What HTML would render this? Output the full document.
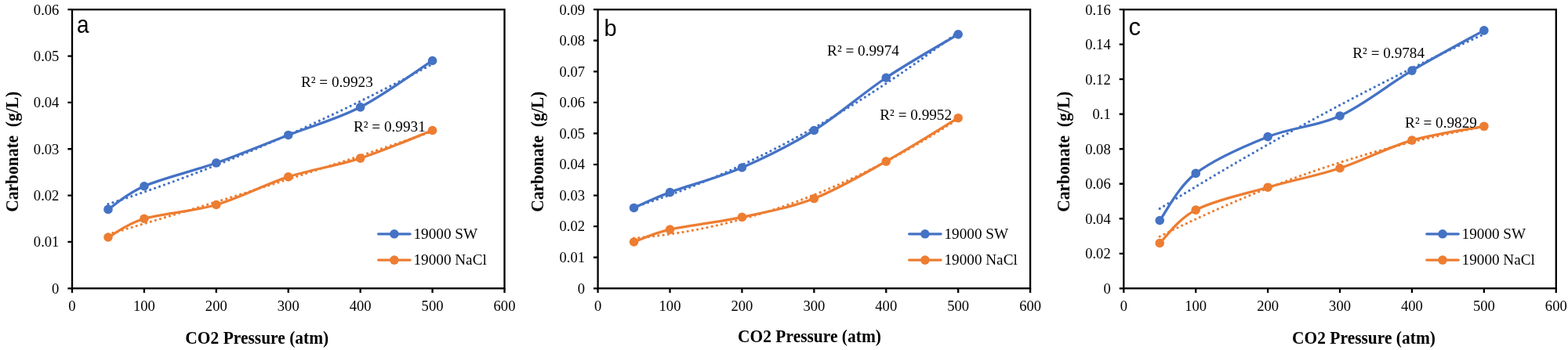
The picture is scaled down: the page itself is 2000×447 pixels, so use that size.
<!DOCTYPE html><html><head><meta charset="utf-8"><style>html,body{margin:0;padding:0;background:#fff;}svg{display:block}</style></head><body>
<svg width="2000" height="447" viewBox="0 0 2000 447">
<rect width="2000" height="447" fill="#fff"/>
<g><path d="M137.96,260.67 Q344.77,193.43 551.58,81.76" fill="none" stroke="#4472C4" stroke-width="3.3" stroke-linecap="round" stroke-dasharray="0 6.3"/><path d="M137.96,299.18 Q344.77,238.89 551.58,167.86" fill="none" stroke="#ED7D31" stroke-width="3.3" stroke-linecap="round" stroke-dasharray="0 6.3"/><path d="M137.96,267.4 C145.62,262.46 160.94,247.62 183.92,237.73 C206.9,227.84 245.19,218.94 275.83,208.06 C306.47,197.17 337.11,184.32 367.75,172.44 C398.39,160.57 429.03,152.66 459.67,136.83 C490.31,121.01 536.26,87.38 551.58,77.48" fill="none" stroke="#4472C4" stroke-width="3.3" stroke-linecap="round" stroke-linejoin="round"/><circle cx="137.96" cy="267.4" r="5.8" fill="#4472C4"/><circle cx="183.92" cy="237.73" r="5.8" fill="#4472C4"/><circle cx="275.83" cy="208.06" r="5.8" fill="#4472C4"/><circle cx="367.75" cy="172.44" r="5.8" fill="#4472C4"/><circle cx="459.67" cy="136.83" r="5.8" fill="#4472C4"/><circle cx="551.58" cy="77.48" r="5.8" fill="#4472C4"/><path d="M137.96,303.01 C145.62,299.06 160.94,286.2 183.92,279.27 C206.9,272.35 245.19,270.37 275.83,261.47 C306.47,252.57 337.11,235.75 367.75,225.86 C398.39,215.97 429.03,212.01 459.67,202.12 C490.31,192.23 536.26,172.45 551.58,166.51" fill="none" stroke="#ED7D31" stroke-width="3.3" stroke-linecap="round" stroke-linejoin="round"/><circle cx="137.96" cy="303.01" r="5.8" fill="#ED7D31"/><circle cx="183.92" cy="279.27" r="5.8" fill="#ED7D31"/><circle cx="275.83" cy="261.47" r="5.8" fill="#ED7D31"/><circle cx="367.75" cy="225.86" r="5.8" fill="#ED7D31"/><circle cx="459.67" cy="202.12" r="5.8" fill="#ED7D31"/><circle cx="551.58" cy="166.51" r="5.8" fill="#ED7D31"/><rect x="92" y="12.2" width="551.5" height="356.1" fill="none" stroke="#000" stroke-width="2.3"/><text transform="translate(75.4,374.6) scale(0.96,1)" text-anchor="end" font-family="Liberation Serif, Times New Roman, serif" font-size="19.4">0</text><text transform="translate(75.4,315.25) scale(0.96,1)" text-anchor="end" font-family="Liberation Serif, Times New Roman, serif" font-size="19.4">0.01</text><text transform="translate(75.4,255.9) scale(0.96,1)" text-anchor="end" font-family="Liberation Serif, Times New Roman, serif" font-size="19.4">0.02</text><text transform="translate(75.4,196.55) scale(0.96,1)" text-anchor="end" font-family="Liberation Serif, Times New Roman, serif" font-size="19.4">0.03</text><text transform="translate(75.4,137.2) scale(0.96,1)" text-anchor="end" font-family="Liberation Serif, Times New Roman, serif" font-size="19.4">0.04</text><text transform="translate(75.4,77.85) scale(0.96,1)" text-anchor="end" font-family="Liberation Serif, Times New Roman, serif" font-size="19.4">0.05</text><text transform="translate(75.4,18.5) scale(0.96,1)" text-anchor="end" font-family="Liberation Serif, Times New Roman, serif" font-size="19.4">0.06</text><text transform="translate(92,397) scale(0.96,1)" text-anchor="middle" font-family="Liberation Serif, Times New Roman, serif" font-size="19.4">0</text><text transform="translate(183.92,397) scale(0.96,1)" text-anchor="middle" font-family="Liberation Serif, Times New Roman, serif" font-size="19.4">100</text><text transform="translate(275.83,397) scale(0.96,1)" text-anchor="middle" font-family="Liberation Serif, Times New Roman, serif" font-size="19.4">200</text><text transform="translate(367.75,397) scale(0.96,1)" text-anchor="middle" font-family="Liberation Serif, Times New Roman, serif" font-size="19.4">300</text><text transform="translate(459.67,397) scale(0.96,1)" text-anchor="middle" font-family="Liberation Serif, Times New Roman, serif" font-size="19.4">400</text><text transform="translate(551.58,397) scale(0.96,1)" text-anchor="middle" font-family="Liberation Serif, Times New Roman, serif" font-size="19.4">500</text><text transform="translate(643.5,397) scale(0.96,1)" text-anchor="middle" font-family="Liberation Serif, Times New Roman, serif" font-size="19.4">600</text><path d="M86.4,368.3 H92 M86.4,308.95 H92 M86.4,249.6 H92 M86.4,190.25 H92 M86.4,130.9 H92 M86.4,71.55 H92 M86.4,12.2 H92 M92,368.3 V373.9 M183.92,368.3 V373.9 M275.83,368.3 V373.9 M367.75,368.3 V373.9 M459.67,368.3 V373.9 M551.58,368.3 V373.9 M643.5,368.3 V373.9" stroke="#000" stroke-width="2.3" fill="none"/><text transform="translate(97.9,42) scale(0.9,1)" font-family="Liberation Sans, Arial, sans-serif" font-size="31">a</text><text x="384" y="111" font-family="Liberation Serif, Times New Roman, serif" font-size="19.2">R² = 0.9923</text><text x="451" y="168" font-family="Liberation Serif, Times New Roman, serif" font-size="19.2">R² = 0.9931</text><path d="M482.65,298.8 H523.15" stroke="#4472C4" stroke-width="3.3" stroke-linecap="round"/><circle cx="502.9" cy="298.8" r="5.8" fill="#4472C4"/><text x="527.5" y="304.8" font-family="Liberation Serif, Times New Roman, serif" font-size="19.2">19000 SW</text><path d="M482.65,332.1 H523.15" stroke="#ED7D31" stroke-width="3.3" stroke-linecap="round"/><circle cx="502.9" cy="332.1" r="5.8" fill="#ED7D31"/><text x="527.5" y="338.1" font-family="Liberation Serif, Times New Roman, serif" font-size="19.2">19000 NaCl</text><text transform="translate(327.8,439.05) scale(0.93,1)" text-anchor="middle" font-family="Liberation Serif, Times New Roman, serif" font-weight="bold" font-size="23.1">CO2 Pressure (atm)</text><text transform="translate(22.8,193.8) rotate(-90) scale(0.93,1)" text-anchor="middle" font-family="Liberation Serif, Times New Roman, serif" font-weight="bold" font-size="23.1" xml:space="preserve">Carbonate  (g/L)</text></g>
<g><path d="M808.56,264.65 Q1015.37,198.99 1222.18,40.81" fill="none" stroke="#4472C4" stroke-width="3.3" stroke-linecap="round" stroke-dasharray="0 6.3"/><path d="M808.56,304.13 Q1015.37,287.51 1222.18,151.71" fill="none" stroke="#ED7D31" stroke-width="3.3" stroke-linecap="round" stroke-dasharray="0 6.3"/><path d="M808.56,265.43 C816.22,262.13 831.54,254.22 854.52,245.64 C877.5,237.07 915.79,227.18 946.43,213.99 C977.07,200.8 1007.71,185.63 1038.35,166.51 C1068.99,147.39 1099.63,119.69 1130.27,99.25 C1160.91,78.8 1206.86,53.09 1222.18,43.85" fill="none" stroke="#4472C4" stroke-width="3.3" stroke-linecap="round" stroke-linejoin="round"/><circle cx="808.56" cy="265.43" r="5.8" fill="#4472C4"/><circle cx="854.52" cy="245.64" r="5.8" fill="#4472C4"/><circle cx="946.43" cy="213.99" r="5.8" fill="#4472C4"/><circle cx="1038.35" cy="166.51" r="5.8" fill="#4472C4"/><circle cx="1130.27" cy="99.25" r="5.8" fill="#4472C4"/><circle cx="1222.18" cy="43.85" r="5.8" fill="#4472C4"/><path d="M808.56,308.95 C816.22,306.31 831.54,298.4 854.52,293.12 C877.5,287.85 915.79,283.89 946.43,277.3 C977.07,270.7 1007.71,265.43 1038.35,253.56 C1068.99,241.69 1099.63,223.22 1130.27,206.08 C1160.91,188.93 1206.86,159.92 1222.18,150.68" fill="none" stroke="#ED7D31" stroke-width="3.3" stroke-linecap="round" stroke-linejoin="round"/><circle cx="808.56" cy="308.95" r="5.8" fill="#ED7D31"/><circle cx="854.52" cy="293.12" r="5.8" fill="#ED7D31"/><circle cx="946.43" cy="277.3" r="5.8" fill="#ED7D31"/><circle cx="1038.35" cy="253.56" r="5.8" fill="#ED7D31"/><circle cx="1130.27" cy="206.08" r="5.8" fill="#ED7D31"/><circle cx="1222.18" cy="150.68" r="5.8" fill="#ED7D31"/><rect x="762.6" y="12.2" width="551.5" height="356.1" fill="none" stroke="#000" stroke-width="2.3"/><text transform="translate(746,374.6) scale(0.96,1)" text-anchor="end" font-family="Liberation Serif, Times New Roman, serif" font-size="19.4">0</text><text transform="translate(746,335.03) scale(0.96,1)" text-anchor="end" font-family="Liberation Serif, Times New Roman, serif" font-size="19.4">0.01</text><text transform="translate(746,295.47) scale(0.96,1)" text-anchor="end" font-family="Liberation Serif, Times New Roman, serif" font-size="19.4">0.02</text><text transform="translate(746,255.9) scale(0.96,1)" text-anchor="end" font-family="Liberation Serif, Times New Roman, serif" font-size="19.4">0.03</text><text transform="translate(746,216.33) scale(0.96,1)" text-anchor="end" font-family="Liberation Serif, Times New Roman, serif" font-size="19.4">0.04</text><text transform="translate(746,176.77) scale(0.96,1)" text-anchor="end" font-family="Liberation Serif, Times New Roman, serif" font-size="19.4">0.05</text><text transform="translate(746,137.2) scale(0.96,1)" text-anchor="end" font-family="Liberation Serif, Times New Roman, serif" font-size="19.4">0.06</text><text transform="translate(746,97.63) scale(0.96,1)" text-anchor="end" font-family="Liberation Serif, Times New Roman, serif" font-size="19.4">0.07</text><text transform="translate(746,58.07) scale(0.96,1)" text-anchor="end" font-family="Liberation Serif, Times New Roman, serif" font-size="19.4">0.08</text><text transform="translate(746,18.5) scale(0.96,1)" text-anchor="end" font-family="Liberation Serif, Times New Roman, serif" font-size="19.4">0.09</text><text transform="translate(762.6,397) scale(0.96,1)" text-anchor="middle" font-family="Liberation Serif, Times New Roman, serif" font-size="19.4">0</text><text transform="translate(854.52,397) scale(0.96,1)" text-anchor="middle" font-family="Liberation Serif, Times New Roman, serif" font-size="19.4">100</text><text transform="translate(946.43,397) scale(0.96,1)" text-anchor="middle" font-family="Liberation Serif, Times New Roman, serif" font-size="19.4">200</text><text transform="translate(1038.35,397) scale(0.96,1)" text-anchor="middle" font-family="Liberation Serif, Times New Roman, serif" font-size="19.4">300</text><text transform="translate(1130.27,397) scale(0.96,1)" text-anchor="middle" font-family="Liberation Serif, Times New Roman, serif" font-size="19.4">400</text><text transform="translate(1222.18,397) scale(0.96,1)" text-anchor="middle" font-family="Liberation Serif, Times New Roman, serif" font-size="19.4">500</text><text transform="translate(1314.1,397) scale(0.96,1)" text-anchor="middle" font-family="Liberation Serif, Times New Roman, serif" font-size="19.4">600</text><path d="M757,368.3 H762.6 M757,328.73 H762.6 M757,289.17 H762.6 M757,249.6 H762.6 M757,210.03 H762.6 M757,170.47 H762.6 M757,130.9 H762.6 M757,91.33 H762.6 M757,51.77 H762.6 M757,12.2 H762.6 M762.6,368.3 V373.9 M854.52,368.3 V373.9 M946.43,368.3 V373.9 M1038.35,368.3 V373.9 M1130.27,368.3 V373.9 M1222.18,368.3 V373.9 M1314.1,368.3 V373.9" stroke="#000" stroke-width="2.3" fill="none"/><text transform="translate(770.4,45.7) scale(1,1)" font-family="Liberation Sans, Arial, sans-serif" font-size="29.1">b</text><text x="1055.1" y="71" font-family="Liberation Serif, Times New Roman, serif" font-size="19.2">R² = 0.9974</text><text x="1122.3" y="153.3" font-family="Liberation Serif, Times New Roman, serif" font-size="19.2">R² = 0.9952</text><path d="M1159.65,298.8 H1200.15" stroke="#4472C4" stroke-width="3.3" stroke-linecap="round"/><circle cx="1179.9" cy="298.8" r="5.8" fill="#4472C4"/><text x="1204.5" y="304.8" font-family="Liberation Serif, Times New Roman, serif" font-size="19.2">19000 SW</text><path d="M1159.65,332.1 H1200.15" stroke="#ED7D31" stroke-width="3.3" stroke-linecap="round"/><circle cx="1179.9" cy="332.1" r="5.8" fill="#ED7D31"/><text x="1204.5" y="338.1" font-family="Liberation Serif, Times New Roman, serif" font-size="19.2">19000 NaCl</text><text transform="translate(1032.5,437.4) scale(0.93,1)" text-anchor="middle" font-family="Liberation Serif, Times New Roman, serif" font-weight="bold" font-size="23.1">CO2 Pressure (atm)</text><text transform="translate(693.4,193.8) rotate(-90) scale(0.93,1)" text-anchor="middle" font-family="Liberation Serif, Times New Roman, serif" font-weight="bold" font-size="23.1" xml:space="preserve">Carbonate  (g/L)</text></g>
<g><path d="M1479.26,266.52 Q1686.07,137.98 1892.88,43.57" fill="none" stroke="#4472C4" stroke-width="3.3" stroke-linecap="round" stroke-dasharray="0 6.3"/><path d="M1479.26,302.05 Q1686.07,198.17 1892.88,161.92" fill="none" stroke="#ED7D31" stroke-width="3.3" stroke-linecap="round" stroke-dasharray="0 6.3"/><path d="M1479.26,281.5 C1486.92,271.49 1502.24,239.21 1525.22,221.41 C1548.2,203.6 1586.49,186.91 1617.13,174.67 C1647.77,162.43 1678.41,162.06 1709.05,147.96 C1739.69,133.87 1770.33,108.27 1800.97,90.1 C1831.61,71.92 1877.56,47.44 1892.88,38.91" fill="none" stroke="#4472C4" stroke-width="3.3" stroke-linecap="round" stroke-linejoin="round"/><circle cx="1479.26" cy="281.5" r="5.8" fill="#4472C4"/><circle cx="1525.22" cy="221.41" r="5.8" fill="#4472C4"/><circle cx="1617.13" cy="174.67" r="5.8" fill="#4472C4"/><circle cx="1709.05" cy="147.96" r="5.8" fill="#4472C4"/><circle cx="1800.97" cy="90.1" r="5.8" fill="#4472C4"/><circle cx="1892.88" cy="38.91" r="5.8" fill="#4472C4"/><path d="M1479.26,310.43 C1486.92,303.39 1502.24,280.02 1525.22,268.15 C1548.2,256.28 1586.49,248.12 1617.13,239.21 C1647.77,230.31 1678.41,224.75 1709.05,214.73 C1739.69,204.72 1770.33,188.02 1800.97,179.12 C1831.61,170.22 1877.56,164.28 1892.88,161.32" fill="none" stroke="#ED7D31" stroke-width="3.3" stroke-linecap="round" stroke-linejoin="round"/><circle cx="1479.26" cy="310.43" r="5.8" fill="#ED7D31"/><circle cx="1525.22" cy="268.15" r="5.8" fill="#ED7D31"/><circle cx="1617.13" cy="239.21" r="5.8" fill="#ED7D31"/><circle cx="1709.05" cy="214.73" r="5.8" fill="#ED7D31"/><circle cx="1800.97" cy="179.12" r="5.8" fill="#ED7D31"/><circle cx="1892.88" cy="161.32" r="5.8" fill="#ED7D31"/><rect x="1433.3" y="12.2" width="551.5" height="356.1" fill="none" stroke="#000" stroke-width="2.3"/><text transform="translate(1416.7,374.6) scale(0.96,1)" text-anchor="end" font-family="Liberation Serif, Times New Roman, serif" font-size="19.4">0</text><text transform="translate(1416.7,330.09) scale(0.96,1)" text-anchor="end" font-family="Liberation Serif, Times New Roman, serif" font-size="19.4">0.02</text><text transform="translate(1416.7,285.57) scale(0.96,1)" text-anchor="end" font-family="Liberation Serif, Times New Roman, serif" font-size="19.4">0.04</text><text transform="translate(1416.7,241.06) scale(0.96,1)" text-anchor="end" font-family="Liberation Serif, Times New Roman, serif" font-size="19.4">0.06</text><text transform="translate(1416.7,196.55) scale(0.96,1)" text-anchor="end" font-family="Liberation Serif, Times New Roman, serif" font-size="19.4">0.08</text><text transform="translate(1416.7,152.04) scale(0.96,1)" text-anchor="end" font-family="Liberation Serif, Times New Roman, serif" font-size="19.4">0.1</text><text transform="translate(1416.7,107.52) scale(0.96,1)" text-anchor="end" font-family="Liberation Serif, Times New Roman, serif" font-size="19.4">0.12</text><text transform="translate(1416.7,63.01) scale(0.96,1)" text-anchor="end" font-family="Liberation Serif, Times New Roman, serif" font-size="19.4">0.14</text><text transform="translate(1416.7,18.5) scale(0.96,1)" text-anchor="end" font-family="Liberation Serif, Times New Roman, serif" font-size="19.4">0.16</text><text transform="translate(1433.3,397) scale(0.96,1)" text-anchor="middle" font-family="Liberation Serif, Times New Roman, serif" font-size="19.4">0</text><text transform="translate(1525.22,397) scale(0.96,1)" text-anchor="middle" font-family="Liberation Serif, Times New Roman, serif" font-size="19.4">100</text><text transform="translate(1617.13,397) scale(0.96,1)" text-anchor="middle" font-family="Liberation Serif, Times New Roman, serif" font-size="19.4">200</text><text transform="translate(1709.05,397) scale(0.96,1)" text-anchor="middle" font-family="Liberation Serif, Times New Roman, serif" font-size="19.4">300</text><text transform="translate(1800.97,397) scale(0.96,1)" text-anchor="middle" font-family="Liberation Serif, Times New Roman, serif" font-size="19.4">400</text><text transform="translate(1892.88,397) scale(0.96,1)" text-anchor="middle" font-family="Liberation Serif, Times New Roman, serif" font-size="19.4">500</text><text transform="translate(1984.8,397) scale(0.96,1)" text-anchor="middle" font-family="Liberation Serif, Times New Roman, serif" font-size="19.4">600</text><path d="M1427.7,368.3 H1433.3 M1427.7,323.79 H1433.3 M1427.7,279.27 H1433.3 M1427.7,234.76 H1433.3 M1427.7,190.25 H1433.3 M1427.7,145.74 H1433.3 M1427.7,101.22 H1433.3 M1427.7,56.71 H1433.3 M1427.7,12.2 H1433.3 M1433.3,368.3 V373.9 M1525.22,368.3 V373.9 M1617.13,368.3 V373.9 M1709.05,368.3 V373.9 M1800.97,368.3 V373.9 M1892.88,368.3 V373.9 M1984.8,368.3 V373.9" stroke="#000" stroke-width="2.3" fill="none"/><text transform="translate(1439.6,44.8) scale(1,1)" font-family="Liberation Sans, Arial, sans-serif" font-size="31">c</text><text x="1725.3" y="73.5" font-family="Liberation Serif, Times New Roman, serif" font-size="19.2">R² = 0.9784</text><text x="1792.1" y="163" font-family="Liberation Serif, Times New Roman, serif" font-size="19.2">R² = 0.9829</text><path d="M1819.75,298.8 H1860.25" stroke="#4472C4" stroke-width="3.3" stroke-linecap="round"/><circle cx="1840" cy="298.8" r="5.8" fill="#4472C4"/><text x="1864.6" y="304.8" font-family="Liberation Serif, Times New Roman, serif" font-size="19.2">19000 SW</text><path d="M1819.75,332.1 H1860.25" stroke="#ED7D31" stroke-width="3.3" stroke-linecap="round"/><circle cx="1840" cy="332.1" r="5.8" fill="#ED7D31"/><text x="1864.6" y="338.1" font-family="Liberation Serif, Times New Roman, serif" font-size="19.2">19000 NaCl</text><text transform="translate(1739.5,439.2) scale(0.93,1)" text-anchor="middle" font-family="Liberation Serif, Times New Roman, serif" font-weight="bold" font-size="23.1">CO2 Pressure (atm)</text><text transform="translate(1364.1,193.8) rotate(-90) scale(0.93,1)" text-anchor="middle" font-family="Liberation Serif, Times New Roman, serif" font-weight="bold" font-size="23.1" xml:space="preserve">Carbonate  (g/L)</text></g>
</svg></body></html>
